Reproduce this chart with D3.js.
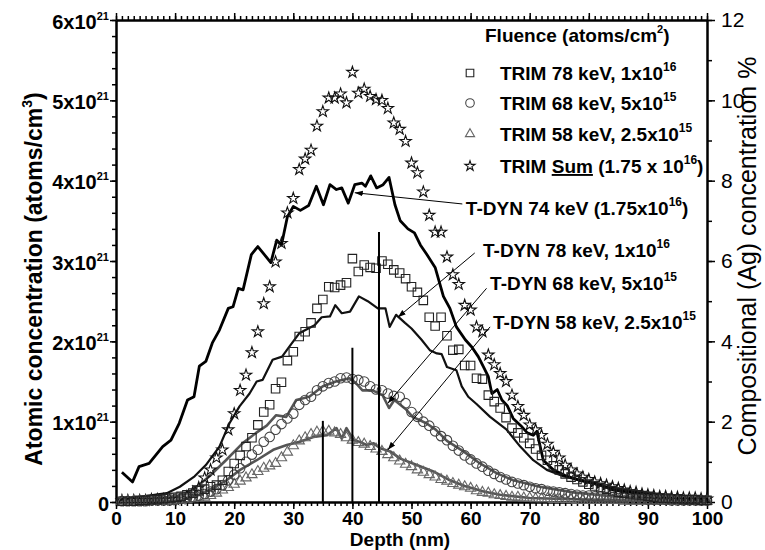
<!DOCTYPE html>
<html>
<head>
<meta charset="utf-8">
<script src="https://cdn.jsdelivr.net/npm/d3@7"></script>
<style>
  body { margin: 0; background: #fff; }
  svg { display: block; }
  text { font-family: "Liberation Sans", Arial, sans-serif; }
</style>
</head>
<body>
<div class="container"></div>
<script>
// depth grid of the TRIM profiles (nm)
const trimDepth = [1,2,3,4,5,6,7,8,9,10,11,12,13,14,15,16,17,18,19,20,
  21,22,23,24,25,26,27,28,29,30,31,32,33,34,35,36,37,38,39,40,
  41,42,43,44,45,46,47,48,49,50,51,52,53,54,55,56,57,58,59,60,
  61,62,63,64,65,66,67,68,69,70,71,72,73,74,75,76,77,78,79,80,
  81,82,83,84,85,86,87,88,89,90,91,92,93,94,95,96,97,98,99,100]

// TRIM concentrations, units of 1e21 atoms/cm3
const trim78 = [0.01,0.01,0.01,0.02,0.02,0.03,0.03,0.04,0.05,0.06,
  0.07,0.09,0.11,0.14,0.16,0.19,0.21,0.27,0.38,0.48,
  0.58,0.69,0.80,0.96,1.12,1.21,1.41,1.49,1.76,1.87,
  2.06,2.12,2.23,2.41,2.52,2.68,2.67,2.70,2.73,3.03,
  2.87,2.95,2.92,2.91,3.00,2.96,2.89,2.85,2.78,2.68,
  2.61,2.51,2.30,2.19,2.30,2.07,1.89,1.90,1.70,1.70,
  1.54,1.53,1.33,1.25,1.17,1.05,0.92,0.86,0.80,0.73,
  0.66,0.58,0.52,0.45,0.40,0.35,0.31,0.28,0.25,0.22,
  0.20,0.18,0.16,0.14,0.12,0.11,0.10,0.09,0.08,0.07,
  0.06,0.05,0.05,0.04,0.04,0.03,0.03,0.03,0.02,0.02]

const trim68 = [0.01,0.01,0.01,0.01,0.01,0.02,0.02,0.02,0.02,0.03,
  0.04,0.05,0.06,0.08,0.10,0.13,0.16,0.21,0.27,0.34,
  0.42,0.50,0.59,0.65,0.75,0.81,0.90,0.97,1.04,1.10,
  1.21,1.27,1.31,1.39,1.44,1.48,1.50,1.54,1.55,1.53,
  1.52,1.50,1.44,1.40,1.39,1.35,1.32,1.31,1.23,1.12,
  1.06,1.00,0.95,0.88,0.82,0.77,0.70,0.64,0.58,0.53,
  0.48,0.44,0.39,0.35,0.31,0.28,0.25,0.23,0.21,0.19,
  0.17,0.16,0.14,0.13,0.12,0.11,0.10,0.09,0.08,0.08,
  0.07,0.07,0.06,0.06,0.05,0.05,0.04,0.04,0.04,0.03,
  0.03,0.03,0.03,0.02,0.02,0.02,0.02,0.02,0.02,0.02]

const trim58 = [0.01,0.01,0.01,0.01,0.01,0.01,0.01,0.01,0.01,0.02,
  0.02,0.03,0.04,0.05,0.06,0.08,0.11,0.15,0.18,0.22,
  0.26,0.30,0.34,0.38,0.42,0.45,0.48,0.55,0.62,0.70,
  0.76,0.80,0.84,0.87,0.88,0.88,0.86,0.84,0.80,0.77,
  0.74,0.72,0.69,0.66,0.63,0.59,0.55,0.51,0.47,0.44,
  0.40,0.37,0.34,0.31,0.28,0.26,0.23,0.21,0.19,0.17,
  0.14,0.12,0.11,0.09,0.08,0.07,0.06,0.06,0.05,0.05,
  0.04,0.04,0.04,0.03,0.03,0.03,0.03,0.02,0.02,0.02,
  0.02,0.02,0.02,0.02,0.02,0.01,0.01,0.01,0.01,0.01,
  0.01,0.01,0.01,0.01,0.01,0.01,0.01,0.01,0.01,0.01]

const trimSum = [0.02,0.02,0.02,0.02,0.02,0.03,0.03,0.03,0.03,0.03,
  0.04,0.07,0.12,0.18,0.30,0.40,0.55,0.65,0.90,1.10,
  1.39,1.58,1.86,2.12,2.47,2.68,2.99,3.22,3.60,3.78,
  4.14,4.27,4.38,4.68,4.86,5.03,5.03,5.08,4.97,5.35,
  5.09,5.14,5.05,5.01,5.00,4.90,4.72,4.64,4.49,4.22,
  4.10,3.86,3.57,3.36,3.36,3.05,2.83,2.71,2.45,2.39,
  2.18,2.12,1.83,1.71,1.60,1.50,1.33,1.19,1.08,0.96,
  0.90,0.83,0.72,0.62,0.55,0.46,0.40,0.35,0.31,0.28,
  0.25,0.23,0.21,0.19,0.17,0.15,0.13,0.12,0.10,0.09,
  0.08,0.07,0.07,0.06,0.06,0.05,0.05,0.05,0.04,0.04]

// T-DYN profiles: depth (nm) and concentration (1e21 atoms/cm3)
const dyn74Depth = [1,2.8,3.9,5.6,7.9,9.3,10.7,12.1,13.2,14.1,15.2,16.3,17.5,19,19.8,20.7,21.5,22.9,24,26.2,
  27.2,28,29,30,31.2,32.6,33.9,35.1,36.2,37.3,38.2,39.3,40.4,41.6,42.2,43.1,44.1,45.2,46.2,47.2,
  48.1,49.4,50.5,51.5,52.6,54,54.7,55.4,56.5,57.6,59.1,60.2,61.3,62.2,63,63.6,64.5,65.3,66.2,67.2,
  68.5,69.6,70.6,71.2,72.3,74,76,78.5,81.3,84.1,87,89.8,92.5,95.4,100]
const dyn74 = [0.37,0.25,0.44,0.48,0.69,0.77,0.98,1.27,1.31,1.69,1.75,1.98,2.14,2.41,2.43,2.66,2.64,3.08,3.18,2.98,
  3.26,3.20,3.55,3.68,3.63,3.69,3.93,3.70,3.95,3.89,3.91,3.72,3.95,3.97,3.93,4.06,3.91,3.95,4.04,3.70,
  3.50,3.40,3.35,3.20,3.08,2.92,2.74,2.56,2.41,2.18,2.02,1.93,1.81,1.68,1.56,1.35,1.40,1.27,1.20,1.04,
  0.95,0.86,0.83,0.88,0.52,0.40,0.33,0.27,0.23,0.15,0.12,0.09,0.07,0.05,0.03]

const dyn78Depth = [0,5.6,8.6,10.8,13.3,15.2,17.5,19.2,20.9,22.6,23.8,24.8,26.5,28.1,29.3,31,33.6,34.8,36.2,37.1,
  38.2,39.6,41.1,42.6,44.3,45.6,46.3,47.4,48.9,50,51.7,53.1,54.3,55.1,56,57.6,58.5,59.6,61,63.3,
  66.1,68.4,70.6,72.9,75.7,78.5,83,89.8,95,100]
const dyn78 = [0.02,0.08,0.11,0.19,0.32,0.46,0.69,0.98,1.19,1.35,1.50,1.52,1.77,1.81,1.93,2.10,2.20,2.30,2.31,2.45,
  2.35,2.37,2.56,2.50,2.41,2.41,2.18,2.33,2.23,2.16,2.02,1.89,1.85,1.84,1.68,1.64,1.44,1.31,1.22,1.06,
  0.90,0.69,0.52,0.40,0.32,0.27,0.19,0.11,0.07,0.05]

const dyn68Depth = [0,5,10,13,15.8,18.6,21.4,23.7,25.5,27.1,28.8,30.5,32.7,35,37.2,39.5,40.6,41.7,43.4,45.1,
  46.2,47.1,49.1,50.2,52.5,54.1,56,58.8,61.6,64.4,67.2,71.7,77.4,84.1,90,100]
const dyn68 = [0.01,0.02,0.06,0.15,0.32,0.52,0.73,0.86,0.95,1.08,1.06,1.27,1.31,1.44,1.50,1.54,1.48,1.39,1.39,1.33,
  1.17,1.27,1.15,1.06,0.98,0.90,0.76,0.63,0.48,0.36,0.27,0.19,0.12,0.07,0.05,0.03]

const dyn58Depth = [0,8,10.8,14.2,16.5,18.7,21,23.8,26.6,28.9,31.1,33.4,35.7,37.3,38.2,39,40.2,41.2,42.4,43.6,
  44.7,46.4,48.1,50.9,53.7,56.5,59,62.2,65,70,80,90,100]
const dyn58 = [0.01,0.01,0.02,0.09,0.18,0.27,0.40,0.52,0.65,0.71,0.75,0.81,0.83,0.92,0.79,0.92,0.77,0.75,0.71,0.73,
  0.67,0.63,0.54,0.46,0.38,0.27,0.20,0.13,0.09,0.05,0.03,0.02,0.01]

// projected-range markers (depth, height)
const peakDepth = [35, 40, 44.5]
const peakHeight = [1.01, 1.92, 3.36]

// annotation text position, line start and arrow tip, in data units
const dynLabels = [
  {name: "T-DYN 74 keV (1.75x10", sup: "16", tail: ")", at: [59.2, 3.57], from: [58.6, 3.71], to: [40.4, 3.85]},
  {name: "T-DYN 78 keV, 1x10", sup: "16", tail: "", at: [62.1, 3.05], from: [60.7, 3.10], to: [47.7, 2.30]},
  {name: "T-DYN 68 keV, 5x10", sup: "15", tail: "", at: [63.3, 2.64], from: [62.7, 2.66], to: [46.0, 1.23]},
  {name: "T-DYN 58 keV, 2.5x10", sup: "15", tail: "", at: [63.8, 2.15], from: [63.3, 2.18], to: [46.0, 0.65]}
]

const legendNames = ["TRIM 78 keV, 1x10", "TRIM 68 keV, 5x10", "TRIM 58 keV, 2.5x10", "TRIM Sum"]
const legendSups = ["16", "15", "15", "16"]

const width = 765
const height = 550
const margin = {top: 20, right: 58, bottom: 48, left: 116}

const svg = d3.select(".container")
  .append("svg")
  .attr("width", width)
  .attr("height", height)

const x = d3.scaleLinear().domain([0, 100]).range([margin.left, width - margin.right])
const y = d3.scaleLinear().domain([0, 6]).range([height - margin.bottom, margin.top])
const yRight = d3.scaleLinear().domain([0, 12]).range([height - margin.bottom, margin.top])

const font = "Liberation Sans, Arial, sans-serif"

// ---- axes ----
function styleAxis(g) {
  g.select(".domain").attr("stroke", "#000").attr("stroke-width", 2)
  g.selectAll(".tick line").attr("stroke", "#000").attr("stroke-width", 1.5)
}

// minor ticks first
svg.append("g").attr("transform", `translate(0,${y(0)})`)
  .call(d3.axisBottom(x).tickValues(d3.range(0, 101, 1)).tickSize(4).tickSizeOuter(0).tickFormat(""))
  .call(styleAxis)
svg.append("g").attr("transform", `translate(0,${y(6)})`)
  .call(d3.axisTop(x).tickValues(d3.range(0, 101, 1)).tickSize(4).tickSizeOuter(0).tickFormat(""))
  .call(styleAxis)
svg.append("g").attr("transform", `translate(${x(0)},0)`)
  .call(d3.axisLeft(y).tickValues(d3.range(0, 6.01, 0.2)).tickSize(4).tickSizeOuter(0).tickFormat(""))
  .call(styleAxis)
svg.append("g").attr("transform", `translate(${x(100)},0)`)
  .call(d3.axisRight(yRight).tickValues(d3.range(0, 13, 1)).tickSize(5).tickSizeOuter(0).tickFormat(""))
  .call(styleAxis)

// major ticks with labels
const xAxis = svg.append("g").attr("transform", `translate(0,${y(0)})`)
  .call(d3.axisBottom(x).tickValues(d3.range(0, 101, 10)).tickSize(7).tickSizeOuter(0).tickPadding(3))
  .call(styleAxis)
xAxis.selectAll("text").attr("font-size", 19).attr("font-weight", "bold").attr("fill", "#000")
  .attr("font-family", font)

svg.append("g").attr("transform", `translate(0,${y(6)})`)
  .call(d3.axisTop(x).tickValues(d3.range(0, 101, 10)).tickSize(7).tickSizeOuter(0).tickFormat(""))
  .call(styleAxis)

const yAxis = svg.append("g").attr("transform", `translate(${x(0)},0)`)
  .call(d3.axisLeft(y).tickValues([0, 1, 2, 3, 4, 5, 6]).tickSize(6).tickSizeOuter(0).tickPadding(1))
  .call(styleAxis)
yAxis.selectAll("text").each(function(d) {
  const t = d3.select(this)
  t.text(null).attr("font-size", 20).attr("font-weight", "bold").attr("fill", "#000")
    .attr("font-family", font).attr("dy", "0.4em")
  if (d === 0) { t.text("0"); return }
  t.append("tspan").text(d + "x10")
  t.append("tspan").attr("font-size", 11).attr("dy", -9).text("21")
})

const yAxisR = svg.append("g").attr("transform", `translate(${x(100)},0)`)
  .call(d3.axisRight(yRight).tickValues([0, 2, 4, 6, 8, 10, 12]).tickSize(8).tickSizeOuter(0).tickPadding(6))
  .call(styleAxis)
yAxisR.selectAll("text").attr("font-size", 21).attr("fill", "#000").attr("font-family", font)

// axis titles
svg.append("text")
  .attr("x", 400).attr("y", 546)
  .attr("text-anchor", "middle").attr("font-size", 19).attr("font-weight", "bold")
  .text("Depth (nm)")

const leftTitle = svg.append("text")
  .attr("transform", `translate(42,279) rotate(-90)`)
  .attr("text-anchor", "middle").attr("font-size", 23).attr("font-weight", "bold")
leftTitle.append("tspan").text("Atomic concentration (atoms/cm")
leftTitle.append("tspan").attr("font-size", 14).attr("dy", -10).text("3")
leftTitle.append("tspan").attr("dy", 10).text(")")

svg.append("text")
  .attr("transform", `translate(756,256) rotate(-90)`)
  .attr("text-anchor", "middle").attr("font-size", 25)
  .text("Compositional (Ag) concentration %")

// ---- data ----
const line = d3.line().x(d => x(d[0])).y(d => y(d[1]))

const dynSeries = [
  {depth: dyn58Depth, val: dyn58, color: "#555", w: 2.6},
  {depth: dyn68Depth, val: dyn68, color: "#555", w: 2.6},
  {depth: dyn78Depth, val: dyn78, color: "#111", w: 2.2},
  {depth: dyn74Depth, val: dyn74, color: "#000", w: 2.8}
]
svg.selectAll(".dyn")
  .data(dynSeries)
  .enter().append("path")
  .attr("class", "dyn")
  .attr("fill", "none")
  .attr("stroke", d => d.color)
  .attr("stroke-width", d => d.w)
  .attr("stroke-linejoin", "round")
  .attr("d", d => line(d.depth.map((v, i) => [v, d.val[i]])))

// legend order: 78, 68, 58, sum
const trimSeries = [
  {val: trim78, symbol: d3.symbolSquare, size: 72, color: "#222"},
  {val: trim68, symbol: d3.symbolCircle, size: 72, color: "#444"},
  {val: trim58, symbol: d3.symbolTriangle, size: 46, color: "#666"},
  {val: trimSum, symbol: d3.symbolStar, size: 40, color: "#111"}
]
trimSeries.slice().reverse().forEach(s => {
  const sym = d3.symbol().type(s.symbol).size(s.size)
  svg.append("g").selectAll("path")
    .data(trimDepth.map((v, i) => [v, s.val[i]]))
    .enter().append("path")
    .attr("transform", d => `translate(${x(d[0])},${y(d[1])})`)
    .attr("d", sym)
    .attr("fill", "none")
    .attr("stroke", s.color)
    .attr("stroke-width", 1.1)
})

// vertical markers
svg.selectAll(".peak")
  .data(peakDepth)
  .enter().append("line")
  .attr("class", "peak")
  .attr("x1", d => x(d)).attr("x2", d => x(d))
  .attr("y1", y(0)).attr("y2", (d, i) => y(peakHeight[i]))
  .attr("stroke", "#000").attr("stroke-width", 2)

// ---- annotations ----
svg.append("defs").append("marker")
  .attr("id", "arrow").attr("viewBox", "0 0 10 10")
  .attr("refX", 10).attr("refY", 5)
  .attr("markerWidth", 8).attr("markerHeight", 8)
  .attr("markerUnits", "userSpaceOnUse")
  .attr("orient", "auto")
  .append("path").attr("d", "M0,1.5L10,5L0,8.5Z").attr("fill", "#000")

dynLabels.forEach(a => {
  svg.append("line")
    .attr("x1", x(a.from[0])).attr("y1", y(a.from[1]))
    .attr("x2", x(a.to[0])).attr("y2", y(a.to[1]))
    .attr("stroke", "#000").attr("stroke-width", 1)
    .attr("marker-end", "url(#arrow)")
  const t = svg.append("text")
    .attr("x", x(a.at[0])).attr("y", y(a.at[1]))
    .attr("font-size", 19).attr("font-weight", "bold")
  t.append("tspan").text(a.name)
  t.append("tspan").attr("font-size", 12).attr("dy", -9).text(a.sup)
  if (a.tail) t.append("tspan").attr("dy", 9).text(a.tail)
})

// ---- legend ----
svg.append("text")
  .attr("x", 485).attr("y", 42)
  .attr("font-size", 19).attr("font-weight", "bold")
  .call(t => {
    t.append("tspan").text("Fluence (atoms/cm")
    t.append("tspan").attr("font-size", 11).attr("dy", -9).text("2")
    t.append("tspan").attr("dy", 9).text(")")
  })

const legendRow = [73, 103, 134, 166]
trimSeries.forEach((s, i) => {
  svg.append("path")
    .attr("transform", `translate(470,${legendRow[i]})`)
    .attr("d", d3.symbol().type(s.symbol).size(s.size * 0.8))
    .attr("fill", "none").attr("stroke", s.color).attr("stroke-width", 1.1)
  const t = svg.append("text")
    .attr("x", 500).attr("y", legendRow[i] + 7)
    .attr("font-size", 19).attr("font-weight", "bold")
  if (i === 3) {
    t.append("tspan").text("TRIM ")
    t.append("tspan").style("text-decoration", "underline").text("Sum")
    t.append("tspan").text(" (1.75  x 10")
    t.append("tspan").attr("font-size", 12).attr("dy", -9).text(legendSups[i])
    t.append("tspan").attr("dy", 9).text(")")
  } else {
    t.append("tspan").text(legendNames[i])
    t.append("tspan").attr("font-size", 12).attr("dy", -9).text(legendSups[i])
  }
})
</script>
</body>
</html>
